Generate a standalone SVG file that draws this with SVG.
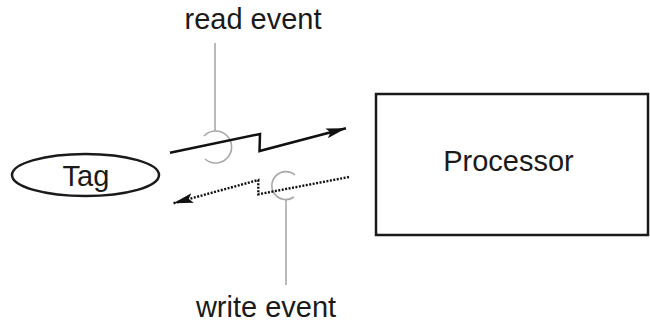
<svg xmlns="http://www.w3.org/2000/svg" width="650" height="324" viewBox="0 0 650 324">
<style>
.lbl{font-family:"Liberation Sans",Arial,sans-serif;font-size:29px;fill:#1a1a1a;text-anchor:middle}
.box{fill:#fff;stroke:#1a1a1a;stroke-width:2.5}
.gray{fill:none;stroke:#a8a8a8;stroke-width:1.6}
.solid{fill:none;stroke:#111;stroke-width:2.5}
.dots{fill:none;stroke:#111;stroke-width:2.4;stroke-dasharray:2 1.5}
</style>
<defs>
<marker id="ah" viewBox="0 0 20 10" refX="20" refY="5" markerWidth="20" markerHeight="10" markerUnits="userSpaceOnUse" orient="auto">
<path d="M0,0 L20,5 L0,10 L4,5 Z" fill="#111"/>
</marker>
</defs>
<rect width="650" height="324" fill="#fff"/>
<g id="tag">
<ellipse class="box" cx="85.5" cy="175" rx="73.5" ry="21"/>
<text class="lbl" x="86" y="186">Tag</text>
</g>
<g id="processor">
<rect class="box" x="376" y="94" width="272" height="141"/>
<text class="lbl" x="508.5" y="171">Processor</text>
</g>
<g id="read-event">
<text class="lbl" x="253" y="29">read event</text>
<path class="gray" d="M215,43 L215,131"/>
<path class="gray" d="M204,136 A16,16 0 1 1 205,159"/>
</g>
<g id="write-event">
<text class="lbl" x="266" y="317">write event</text>
<path class="gray" d="M286,200 L286,285"/>
<path class="gray" d="M295,175 A14,14 0 1 0 294,197"/>
</g>
<g id="connectors">
<path class="solid" d="M170,152.7 L260,134 L259.5,151 L346,128.3" marker-end="url(#ah)"/>
<path class="dots" d="M349,177 L258.3,194.3 L258.3,180 L173.3,203.3" marker-end="url(#ah)"/>
</g>
</svg>
